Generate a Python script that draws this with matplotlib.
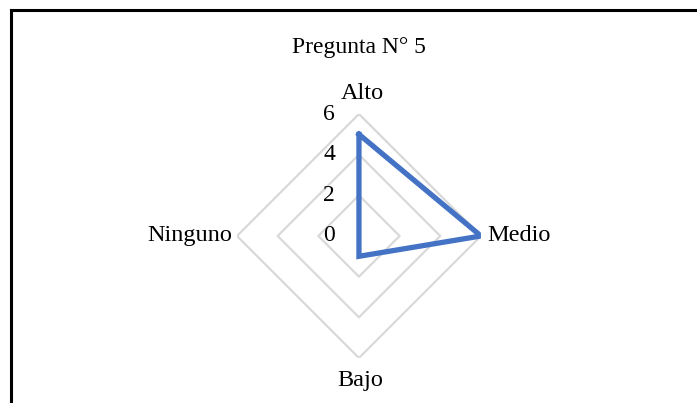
import numpy as np
import matplotlib
matplotlib.use('Agg')
import matplotlib.pyplot as plt
from matplotlib.transforms import offset_copy
from matplotlib.lines import Line2D

plt.rcParams['font.family'] = ['Liberation Serif', 'DejaVu Serif']

categories = ['Alto', 'Medio', 'Bajo', 'Ninguno']
values = [5, 6, 1, 0]
rticks = [0, 2, 4, 6]
title = 'Pregunta N° 5'

fig = plt.figure(figsize=(6.97, 4.03), dpi=100)
ax = fig.add_axes([0.340, 0.1117, 0.350, 0.6055], projection='polar')
ax.set_theta_zero_location('N')
ax.set_theta_direction(-1)
ax.set_ylim(0, 6)
ax.grid(False)
ax.set_xticks([])
ax.set_yticks([])
ax.spines['polar'].set_visible(False)
ax.patch.set_visible(False)

angles = np.linspace(0, 2 * np.pi, len(categories), endpoint=False)
closed = np.append(angles, angles[0])

# diamond grid
for r in rticks[1:]:
    ax.plot(closed, [r] * len(closed), color='#d9d9d9', linewidth=1.6, zorder=1)

# data
vals = values + values[:1]
ax.plot(closed, vals, color='#4472c4', linewidth=3.8, solid_joinstyle='miter', zorder=3)

# radial labels
tt = offset_copy(ax.transData, fig=fig, x=-24, y=0, units='dots')
for r in rticks:
    ax.text(0, r, str(r), transform=tt, ha='right', va='center', fontsize=17)

# category labels
offs = {'Alto': (3, 21, 'center', 'center'),
        'Medio': (6, 0, 'left', 'center'),
        'Bajo': (1, -23, 'center', 'center'),
        'Ninguno': (-5, 0, 'right', 'center')}
for a, c in zip(angles, categories):
    dx, dy, ha, va = offs[c]
    t = offset_copy(ax.transData, fig=fig, x=dx, y=dy, units='dots')
    ax.text(a, 6, c, transform=t, ha=ha, va=va, fontsize=17.5)

fig.text(359 / 697, 1 - 47 / 403, title, ha='center', va='center', fontsize=17)

# frame
fig.add_artist(Line2D([11 / 697, 11 / 697], [0, 1 - 10 / 403], color='black', linewidth=2.2))
fig.add_artist(Line2D([11 / 697, 1], [1 - 10 / 403, 1 - 10 / 403], color='black', linewidth=2.2))

fig.savefig('out.png', dpi=100)
